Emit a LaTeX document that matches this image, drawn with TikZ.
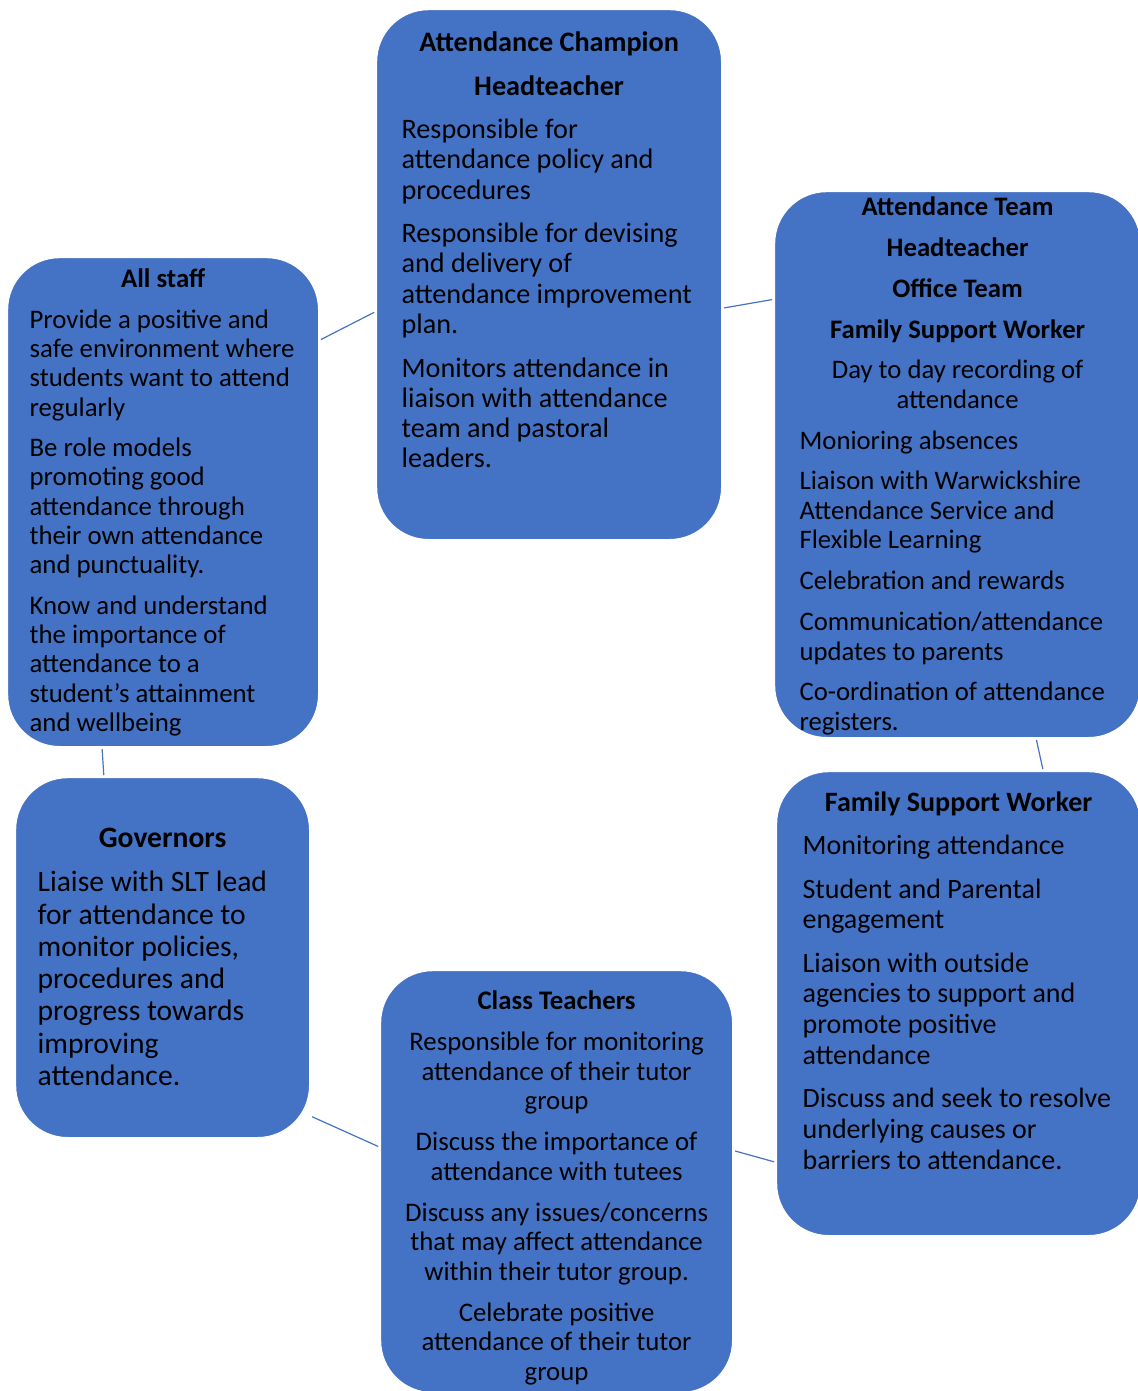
\documentclass[tikz,border=0pt]{standalone}
\usepackage{fontspec}
\setmainfont{Carlito}
\usepackage{tikz}
\definecolor{rolefill}{HTML}{4472C4}
\definecolor{linkblue}{HTML}{4472C4}
\newlength{\roleinset}
\newcommand{\rolebox}[3]{\parbox[c][#2][t]{#1}{#3}}
\newcommand{\rolefont}[4]{\fontsize{#1}{#2}\selectfont\setlength{\parskip}{#3}\setlength{\roleinset}{#4}\setlength{\parindent}{0pt}}
\newcommand{\rolehead}[1]{{\centering\bfseries #1\par}}
\newcommand{\rolemid}[1]{{\centering #1\par}}
\newcommand{\roleitem}[1]{{\raggedright\leftskip=\roleinset #1\par}}
\tikzset{
  role/.style={fill=rolefill, draw=white, line width=0.6pt, rounded corners=26pt, inner sep=0pt, anchor=north west, text=black},
  link/.style={draw=linkblue, line width=0.6pt, shorten <=1pt, shorten >=1pt}
}

\begin{document}
\begin{tikzpicture}[x=0.5pt, y=-0.5pt]
  \useasboundingbox (0,0) rectangle (1137,1391);
  % boxes
  \node[role] (champ) at (376,9) {\rolebox{172.5pt}{265pt}{\rolefont{14.1}{15.15}{6.6pt}{12.5pt}\vspace*{4.5pt}
    \rolehead{Attendance Champion}
    \rolehead{Headteacher}
    \roleitem{Responsible for\\ attendance policy and\\ procedures}
    \roleitem{Responsible for devising\\ and delivery of\\ attendance improvement\\ plan.}
    \roleitem{Monitors attendance in\\ liaison with attendance\\ team and pastoral\\ leaders.}}};
  \node[role] (staff) at (7,257) {\rolebox{155.5pt}{244.5pt}{\rolefont{13.4}{14.65}{5.6pt}{11pt}\vspace*{0pt}
    \rolehead{All staff}
    \roleitem{Provide a positive and\\ safe environment where\\ students want to attend\\ regularly}
    \roleitem{Be role models\\ promoting good\\ attendance through\\ their own attendance\\ and punctuality.}
    \roleitem{Know and understand\\ the importance of\\ attendance to a\\ student's attainment\\ and wellbeing}}};
  \node[role] (team) at (774,191) {\rolebox{183pt}{273pt}{\rolefont{13.35}{14.75}{5.65pt}{12.5pt}\vspace*{-3pt}
    \rolehead{Attendance Team}
    \rolehead{Headteacher}
    \rolehead{Office Team}
    \rolehead{Family Support Worker}
    \rolemid{Day to day recording of\\ attendance}
    \roleitem{Monioring absences}
    \roleitem{Liaison with Warwickshire\\ Attendance Service and\\ Flexible Learning}
    \roleitem{Celebration and rewards}
    \roleitem{Communication/attendance\\ updates to parents}
    \roleitem{Co-ordination of attendance\\ registers.}}};
  \node[role] (fsw) at (776,771) {\rolebox{182pt}{232pt}{\rolefont{14}{15.35}{6.4pt}{13pt}\vspace*{3.5pt}
    \rolehead{Family Support Worker}
    \roleitem{Monitoring attendance}
    \roleitem{Student and Parental\\ engagement}
    \roleitem{Liaison with outside\\ agencies to support and\\ promote positive\\ attendance}
    \roleitem{Discuss and seek to resolve\\ underlying causes or\\ barriers to attendance.}}};
  \node[role] (gov) at (15,777) {\rolebox{147pt}{180pt}{\rolefont{14.8}{16.15}{5.85pt}{11pt}\vspace*{19.5pt}
    \rolehead{Governors}
    \roleitem{Liaise with SLT lead\\ for attendance to\\ monitor policies,\\ procedures and\\ progress towards\\ improving\\ attendance.}}};
  \node[role] (class) at (380,970) {\rolebox{176pt}{211pt}{\rolefont{13.4}{14.75}{5.75pt}{11pt}\vspace*{4.5pt}
    \rolehead{Class Teachers}
    \rolemid{Responsible for monitoring\\ attendance of their tutor\\ group}
    \rolemid{Discuss the importance of\\ attendance with tutees}
    \rolemid{Discuss any issues/concerns\\ that may affect attendance\\ within their tutor group.}
    \rolemid{Celebrate positive\\ attendance of their tutor\\ group}}};
  % connectors
  \draw[link] (staff.46.1) -- (champ.192.4);
  \draw[link] (champ.349.8) -- (team.138);
  \draw[link] (staff.256) -- (gov.108.1);
  \draw[link] (team.286.3) -- (fsw.70.5);
  \draw[link] (gov.313.3) -- (class.169.4);
  \draw[link] (class.10.3) -- (fsw.221.1);
\end{tikzpicture}
\end{document}
